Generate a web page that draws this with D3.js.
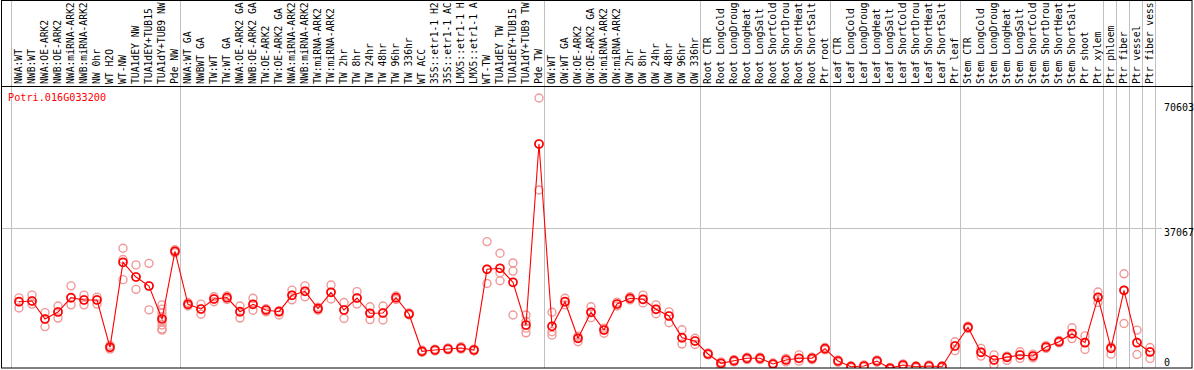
<!DOCTYPE html>
<html><head><meta charset="utf-8">
<script src="https://cdn.jsdelivr.net/npm/d3@7"></script>
<style>body{margin:0;background:#fff}svg{display:block}</style>
</head><body>
<svg id="chart" width="1194" height="370"></svg>
<script>
const title = "Potri.016G033200";
const categories = [
"NWA:WT","NWB:WT","NWA:OE-ARK2","NWB:OE-ARK2","NWA:miRNA-ARK2","NWB:miRNA-ARK2","NW 0hr","WT H2O","WT-NW","TUA1dEY NW","TUA1dEY+TUB15","TUA1dY+TUB9 NW","Pde NW",
"NWA:WT GA","NWBWT GA","TW:WT","TW:WT GA","NWA:OE-ARK2 GA","NWB:OE-ARK2 GA","TW:OE-ARK2","TW:OE-ARK2 GA","NWA:miRNA-ARK2","NWB:miRNA-ARK2","TW:miRNA-ARK2","TW:miRNA-ARK2","TW 2hr","TW 8hr","TW 24hr","TW 48hr","TW 96hr","TW 336hr","WT ACC","35S::etr1-1 H2","35S::etr1-1 AC","LMX5::etr1-1 H","LMX5::etr1-1 A","WT-TW","TUA1dEY TW","TUA1dEY+TUB15","TUA1dY+TUB9 TW","Pde TW",
"OW:WT","OW:WT GA","OW:OE-ARK2","OW:OE-ARK2 GA","OW:miRNA-ARK2","OW:miRNA-ARK2","OW 2hr","OW 8hr","OW 24hr","OW 48hr","OW 96hr","OW 336hr",
"Root CTR","Root LongCold","Root LongDroug","Root LongHeat","Root LongSalt","Root ShortCold","Root ShortDrou","Root ShortHeat","Root ShortSalt","Ptr root",
"Leaf CTR","Leaf LongCold","Leaf LongDroug","Leaf LongHeat","Leaf LongSalt","Leaf ShortCold","Leaf ShortDrou","Leaf ShortHeat","Leaf ShortSalt","Ptr leaf",
"Stem CTR","Stem LongCold","Stem LongDroug","Stem LongHeat","Stem LongSalt","Stem ShortCold","Stem ShortDrou","Stem ShortHeat","Stem ShortSalt","Ptr shoot","Ptr xylem",
"Ptr phloem","Ptr fiber","Ptr vessel","Ptr fiber vess"
];
const means = [
18115,18295,13657,15461,19146,18553,18553,6365,28267,24480,22160,13657,31102,
17445,16234,18811,19146,15538,17445,15976,15538,19764,20795,16311,20537,15976,19068,15126,15203,19146,14945,5334,5669,5927,6184,5669,26464,26722,23114,12111,58751,
11776,18115,8684,15383,10823,17522,18991,18733,16157,14430,8838,7988,
4638,2242,2912,3530,3530,2061,3092,3530,3530,6004,
2834,1366,1546,2834,953,1804,1366,1546,1366,6700,
11518,5076,3092,3788,4381,4123,6442,7808,9869,7550,19249,6107,
21052,7550,5154
];
const replicates = [
[19100,18100,16500],[19800,18300,17500],[15300,13700,11700],[17000,15500,13900],[22200,19100,17300],[19800,18600,17300],[19300,18600,17500],[6900,6400,5900],[31900,29000,23800],[27600,24500,21300],[28000,22200,16000],[17300,16200,15200,14200,13100,12100,11100,10800],[31500,31100,30700],
[17900,17400,17000],[17500,16200,14900],[19400,18800,18100],[19600,19100,18700],[17000,15500,13900],[19000,17400,15900],[16300,16000,15500],[15800,15500,14700],[21100,19800,18600],[22200,20800,19400],[16700,16300,15900],[22400,20500,18800],[17900,16000,13800],[20700,19100,17500],[16800,15100,13500],[17000,15200,13400],[19600,19100,18700],[15200,14900,14700],[5600,5300,5100],[5900,5700,5400],[6200,5900,5700],[6500,6200,5900],[5900,5700,5400],[33600,26500,22800],[30600,25600,23500],[28100,26000,14700],[14700,13000,11300,10100],[70603,58750,46900],
[15400,10400,9500],[19000,18100,17300],[9200,8700,7800],[16800,15400,14000],[11300,10800,10000],[18000,17500,17000],[19400,19000,18600],[19800,18700,17800],[17300,16200,15000],[15500,14400,12700],[10900,8800,7200],[8700,8000,7100],
[4900,4600,4400],[2600,2200,1500],[3200,2900,2600],[3800,3500,3200],[3800,3500,3200],[2300,2100,1800],[3500,3100,2600],[4400,3500,2800],[3800,3500,3200],[6300,6000,5700],
[3100,2800,2500],[1600,1400,1100],[1800,1500,1300],[3100,2800,2500],[1200,900,700],[2100,1800,1500],[1600,1400,1100],[1800,1500,1300],[1600,1400,1100],[7800,6700,5500],
[11800,11500,11200],[6100,5100,4100],[4400,3100,1800],[4100,3800,3000],[5200,4400,3500],[4600,4100,3600],[6800,6400,6100],[8100,7800,7500],[11400,9900,8600],[9300,7600,5800],[20600,19200,17900],[6500,6100,4600],
[25300,21000,12500],[10800,7600,4500],[6300,5200,3500]
];
const groupBreaks = [0,13,41,53,63,73,84,85,86,87,88];
const yTicks = [0,37067,70603];

const W = 1194, H = 370;
const left = 11, right = 1155, headerY = 86, bottom = 368;
const svg = d3.select("#chart");
const font = "'DejaVu Sans Mono', monospace";

const x = d3.scaleBand().domain(d3.range(categories.length)).range([left, right]).paddingInner(0).paddingOuter(0);
const px = i => x(i) + x.bandwidth() * 0.615;
const y = d3.scaleLinear().domain([0, d3.max(yTicks)]).range([372, 98]);

svg.append("defs").append("clipPath").attr("id","plotclip")
  .append("rect").attr("x",1).attr("y",headerY+1).attr("width",W-3).attr("height",bottom-headerY-1);

// vertical separators
svg.append("g").selectAll("line").data(groupBreaks).join("line")
  .attr("x1", k => k < categories.length ? x(k) : right).attr("x2", k => k < categories.length ? x(k) : right)
  .attr("y1", 0).attr("y2", bottom)
  .attr("stroke", "#c0c0c0").attr("stroke-width", 1).attr("shape-rendering","crispEdges");

// horizontal gridlines
const mid = yTicks.filter(t => t !== d3.min(yTicks) && t !== d3.max(yTicks));
svg.append("g").selectAll("line").data(mid).join("line")
  .attr("x1", 1).attr("x2", 1162).attr("y1", d => Math.round(y(d))+0.5).attr("y2", d => Math.round(y(d))+0.5)
  .attr("stroke", "#c0c0c0").attr("stroke-width", 1);

// tick labels
svg.append("g").selectAll("text").data(yTicks).join("text")
  .attr("x", 1164).attr("y", d => Math.max(107, Math.min(362, y(d) + 4)))
  .attr("dy", "0.35em").attr("font-family", font).attr("font-size", 10).attr("fill", "#000")
  .text(d => d);

// header labels
svg.append("g").selectAll("text").data(categories).join("text")
  .attr("transform", (d,i) => `translate(${px(i)},84) rotate(-90)`)
  .attr("dy", "0.35em").attr("font-family", font).attr("font-size", 9.7).attr("fill", "#000")
  .text(d => d);

// title
svg.append("text").attr("x", 8).attr("y", 97).attr("dy","0.35em")
  .attr("font-family", font).attr("font-size", 10.2).attr("fill", "#ff0000").text(title);

const plot = svg.append("g").attr("clip-path","url(#plotclip)");

// replicates
const reps = [];
replicates.forEach((arr,i) => arr.forEach(v => reps.push({i, v})));
plot.append("g").selectAll("circle").data(reps).join("circle")
  .attr("cx", d => px(d.i)).attr("cy", d => y(d.v)).attr("r", 4)
  .attr("fill", "none").attr("stroke", "#f09898").attr("stroke-width", 1.4);

// mean line
plot.append("path").datum(means)
  .attr("d", d3.line().x((d,i) => px(i)).y(d => y(d)))
  .attr("fill", "none").attr("stroke", "#ff0000").attr("stroke-width", 1.1);

// mean circles
plot.append("g").selectAll("circle").data(means).join("circle")
  .attr("cx", (d,i) => px(i)).attr("cy", d => y(d)).attr("r", 4)
  .attr("fill", "none").attr("stroke", "#ff0000").attr("stroke-width", 1.7);

// frame
svg.append("rect").attr("x", 1.5).attr("y", 0.5).attr("width", 1190.5).attr("height", bottom - 0.5)
  .attr("fill", "none").attr("stroke", "#000").attr("stroke-width", 1);
svg.append("line").attr("x1", 1).attr("x2", 1193).attr("y1", headerY + 0.5).attr("y2", headerY + 0.5)
  .attr("stroke", "#000").attr("stroke-width", 1);
</script>
</body></html>
